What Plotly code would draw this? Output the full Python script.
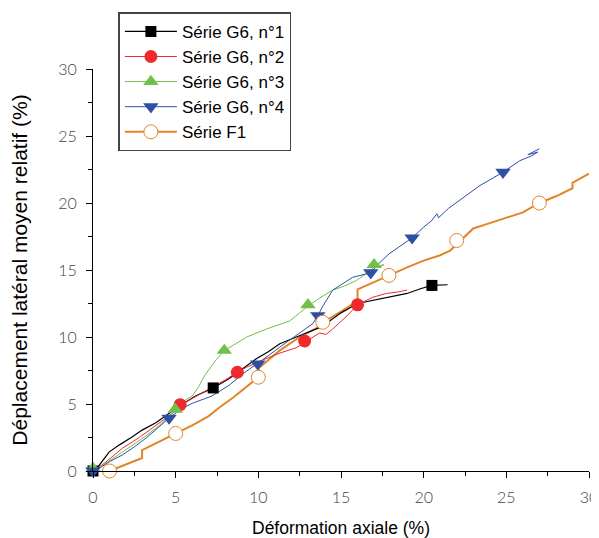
import plotly.graph_objects as go

# ---- Data ----
g1_x = [0, 0.3, 0.97, 1.6, 2.36, 2.97, 3.8, 4.6, 5.3, 6.2, 7.27, 8.24, 9.0, 9.9, 10.6, 11.3, 12.3, 13.7, 14.1, 15.0, 16.0, 17.5, 19.0, 19.8, 20.5, 21.45]
g1_y = [0, 0.3, 1.41, 1.95, 2.53, 3.05, 3.6, 4.3, 4.9, 5.6, 6.2, 6.9, 7.6, 8.4, 8.9, 9.5, 10.0, 10.7, 11.0, 11.8, 12.5, 12.9, 13.25, 13.6, 13.85, 13.9]
g1_mx = [0, 7.27, 20.5]
g1_my = [0, 6.2, 13.85]

g2_x = [0, 0.5, 1.0, 1.78, 2.8, 3.8, 4.8, 5.27, 6.0, 7.0, 8.0, 8.73, 9.3, 10.3, 11.3, 12.3, 12.8, 13.3, 13.7, 14.1, 14.5, 15.3, 16.0, 16.9, 17.4, 17.75, 18.4, 18.7, 19.0]
g2_y = [0, 0.4, 0.9, 1.7, 2.5, 3.4, 4.3, 4.9, 5.4, 6.1, 6.8, 7.37, 7.75, 8.3, 8.8, 9.2, 9.6, 10.0, 10.3, 10.2, 10.6, 11.5, 12.4, 12.96, 13.1, 13.25, 13.35, 13.4, 13.5]
g2_mx = [5.27, 8.73, 12.8, 16.0]
g2_my = [4.95, 7.37, 9.7, 12.4]

g3_x = [0, 0.05, 0.5, 1.78, 2.6, 3.4, 4.0, 4.97, 5.6, 6.0, 6.4, 6.6, 6.85, 7.45, 7.94, 8.5, 9.3, 10.5, 11.9, 12.5, 13.0, 13.7, 14.5, 15.2, 15.9, 16.5, 17.0, 17.6, 17.3]
g3_y = [0.2, 0, 0.35, 1.4, 2.1, 2.8, 3.4, 4.5, 5.3, 5.6, 6.3, 6.8, 7.3, 8.3, 9.0, 9.4, 10.0, 10.6, 11.2, 11.8, 12.3, 12.9, 13.5, 13.8, 14.2, 14.7, 15.2, 15.4, 15.2]
g3_mx = [0, 4.97, 7.94, 13.0, 17.0]
g3_my = [0.2, 4.6, 9.0, 12.4, 15.4]

g4_x = [0, 0.5, 1.0, 1.78, 2.5, 3.2, 4.0, 4.6, 5.3, 6.0, 7.2, 8.24, 9.0, 9.96, 10.6, 11.3, 12.5, 13.3, 13.6, 13.9, 14.5, 15.7, 16.8, 17.3, 17.9, 18.6, 19.3, 20.0, 20.5, 20.8, 20.9, 21.5, 22.4, 23.4, 24.8, 25.8, 26.5, 26.9, 26.3, 27.0]
g4_y = [0, 0.3, 0.7, 1.2, 1.8, 2.45, 3.3, 3.95, 4.6, 5.05, 5.6, 6.4, 7.2, 8.0, 8.6, 9.25, 10.3, 11.0, 11.6, 12.3, 13.5, 14.45, 14.8, 15.5, 16.2, 16.8, 17.4, 18.2, 18.7, 19.2, 18.9, 19.6, 20.4, 21.3, 22.3, 23.15, 23.5, 23.8, 23.6, 24.05]
g4_mx = [0, 4.6, 9.96, 13.6, 16.8, 19.3, 24.8]
g4_my = [0, 3.95, 8.0, 11.6, 14.8, 17.4, 22.3]

f1_x = [1.0, 2.97, 2.97, 4.0, 5.0, 6.0, 7.0, 7.6, 8.5, 9.4, 10.0, 10.05, 10.6, 11.3, 12.5, 13.5, 13.9, 15.0, 16.0, 16.0, 17.0, 17.9, 19.0, 20.0, 21.0, 21.6, 22.0, 22.3, 23.0, 24.0, 25.0, 26.0, 27.0, 28.0, 29.0, 29.0, 30.0]
f1_y = [0, 0.97, 1.56, 2.2, 2.8, 3.4, 4.1, 4.7, 5.5, 6.4, 7.0, 7.7, 8.3, 9.0, 10.0, 10.65, 11.1, 11.9, 12.7, 13.55, 14.1, 14.6, 15.2, 15.7, 16.1, 16.45, 16.9, 17.3, 18.1, 18.5, 18.9, 19.3, 20.0, 20.5, 21.1, 21.5, 22.2]
f1_mx = [1.0, 5.0, 10.0, 13.9, 17.9, 22.0, 27.0]
f1_my = [0, 2.8, 7.0, 11.1, 14.6, 17.2, 20.0]

names = ["Série G6, n°1", "Série G6, n°2", "Série G6, n°3", "Série G6, n°4", "Série F1"]
ticks = [0, 5, 10, 15, 20, 25, 30]

# ---- Styles ----
series = [
    (g1_x, g1_y, g1_mx, g1_my, "#000000", 1.2, dict(symbol="square", size=11, color="#000000")),
    (g2_x, g2_y, g2_mx, g2_my, "#ee2a2e", 1.0, dict(symbol="circle", size=13, color="#ee2a2e")),
    (g3_x, g3_y, g3_mx, g3_my, "#72c04a", 1.0, dict(symbol="triangle-up", size=13.5, color="#72c04a")),
    (g4_x, g4_y, g4_mx, g4_my, "#2e4fa3", 1.0, dict(symbol="triangle-down", size=13.5, color="#2e4fa3")),
    (f1_x, f1_y, f1_mx, f1_my, "#e0862a", 2.0, dict(symbol="circle", size=14, color="#ffffff",
                                                    line=dict(color="#e0862a", width=1))),
]

fig = go.Figure()
order = [4, 0, 1, 2, 3]  # orange first so G6 lines are on top
for i in order:
    x, y, mx, my, col, lw, mk = series[i]
    fig.add_trace(go.Scatter(x=x, y=y, mode="lines", line=dict(color=col, width=lw),
                             showlegend=False, hoverinfo="skip"))
for i in range(5):
    x, y, mx, my, col, lw, mk = series[i]
    gx, gy = [], []
    for a, b in zip(mx, my):
        gx += [a, None]
        gy += [b, None]
    fig.add_trace(go.Scatter(x=gx, y=gy, mode="lines+markers", name=names[i],
                             line=dict(color=col, width=lw), marker=mk,
                             connectgaps=False, cliponaxis=False))

axis_common = dict(
    range=[0, 30], tickvals=ticks, ticktext=[str(t) for t in ticks],
    showgrid=False, zeroline=False, showline=True, linecolor="#000000", linewidth=1,
    ticks="outside", ticklen=6, tickwidth=1, tickcolor="#000000",
    tickfont=dict(family="Lato", size=16, color="#444444", weight=300),
    minor=dict(ticks="outside", ticklen=4, tickwidth=1, tickcolor="#000000", dtick=2.5, showgrid=False),
    automargin=False,
)

# the page body adds an 8px offset, so the figure is 8px smaller than the window
fig.update_layout(
    width=591, height=530,
    margin=dict(l=85, r=10, t=61, b=67, autoexpand=False),
    plot_bgcolor="white", paper_bgcolor="white",
    xaxis=dict(axis_common, ticklabelstandoff=6,
               title=dict(text="Déformation axiale (%)",
                          font=dict(family="Liberation Sans", size=17.5, color="#000000"), standoff=22)),
    yaxis=dict(axis_common, ticklabelstandoff=6,
               title=dict(text="Déplacement latéral moyen relatif (%)",
                          font=dict(family="Liberation Sans", size=21, color="#000000"), standoff=24)),
    legend=dict(x=0.051, y=0.992, xref="paper", yref="container", xanchor="left", yanchor="top",
                bgcolor="white", bordercolor="#444444", borderwidth=1.6,
                font=dict(family="Liberation Sans", size=17, color="#000000"),
                itemwidth=52, tracegroupgap=0),
    showlegend=True,
)

fig.write_html("out.html")
